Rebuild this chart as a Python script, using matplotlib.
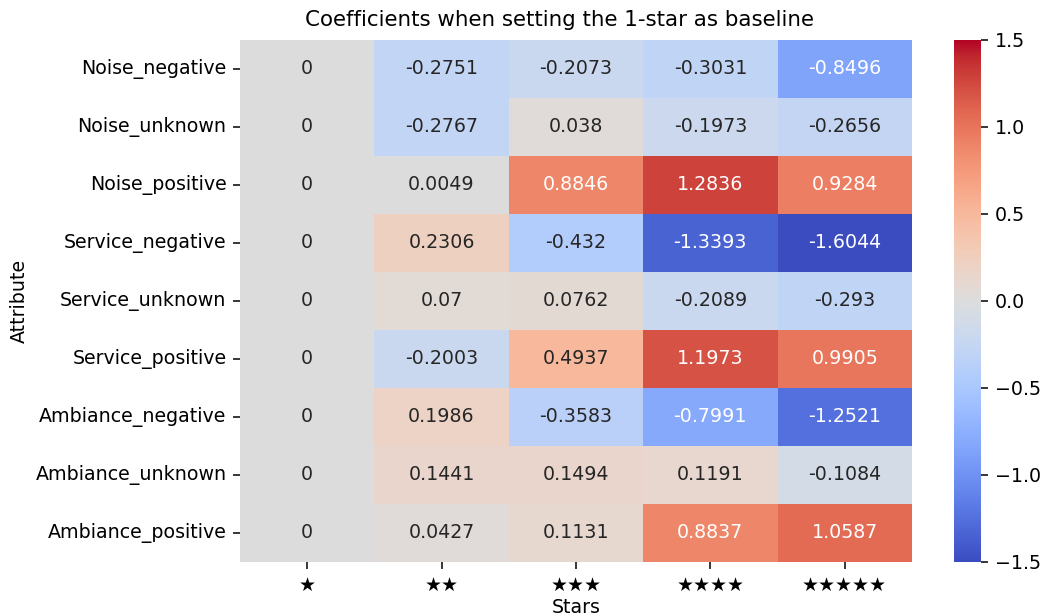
import matplotlib
matplotlib.use("Agg")
import matplotlib.pyplot as plt
import seaborn as sns
import pandas as pd
import numpy as np

plt.rcParams["font.family"] = ["DejaVu Sans"]

attributes = ["Noise_negative", "Noise_unknown", "Noise_positive",
              "Service_negative", "Service_unknown", "Service_positive",
              "Ambiance_negative", "Ambiance_unknown", "Ambiance_positive"]
stars = ["★", "★★", "★★★", "★★★★", "★★★★★"]

one_star = [0, 0, 0, 0, 0, 0, 0, 0, 0]
two_star = [-0.2751, -0.2767, 0.0049, 0.2306, 0.07, -0.2003, 0.1986, 0.1441, 0.0427]
three_star = [-0.2073, 0.038, 0.8846, -0.432, 0.0762, 0.4937, -0.3583, 0.1494, 0.1131]
four_star = [-0.3031, -0.1973, 1.2836, -1.3393, -0.2089, 1.1973, -0.7991, 0.1191, 0.8837]
five_star = [-0.8496, -0.2656, 0.9284, -1.6044, -0.293, 0.9905, -1.2521, -0.1084, 1.0587]

df = pd.DataFrame({stars[0]: one_star, stars[1]: two_star, stars[2]: three_star,
                   stars[3]: four_star, stars[4]: five_star}, index=attributes)
df.index.name = "Attribute"
df.columns.name = "Stars"

fs = 13.7
fig = plt.figure(figsize=(10.41, 6.15), dpi=100)
ax = fig.add_axes([0.2305, 0.0862, 0.6455, 0.849])
cax = fig.add_axes([0.9164, 0.0862, 0.026, 0.849])
sns.heatmap(df, ax=ax, cbar_ax=cax, cmap="coolwarm", vmin=-1.5, vmax=1.5,
            annot=True, fmt="g", annot_kws={"fontsize": fs})
ax.set_title("Coefficients when setting the 1-star as baseline", fontsize=15.4, pad=10, x=0.476)
ax.set_xlabel("Stars", fontsize=fs, labelpad=2.5)
ax.set_ylabel("Attribute", fontsize=fs, labelpad=5)
ax.tick_params(axis="both", labelsize=fs, length=4.9, width=1.1, pad=4.8)
plt.setp(ax.get_yticklabels(), rotation=0)
plt.setp(ax.get_xticklabels(), rotation=0)
cax.tick_params(labelsize=fs, length=4.9, width=1.1, pad=4.8)
cax.set_yticks([-1.5, -1.0, -0.5, 0.0, 0.5, 1.0, 1.5])
for s in cax.spines.values():
    s.set_visible(False)
fig.savefig("out.png", dpi=100)
